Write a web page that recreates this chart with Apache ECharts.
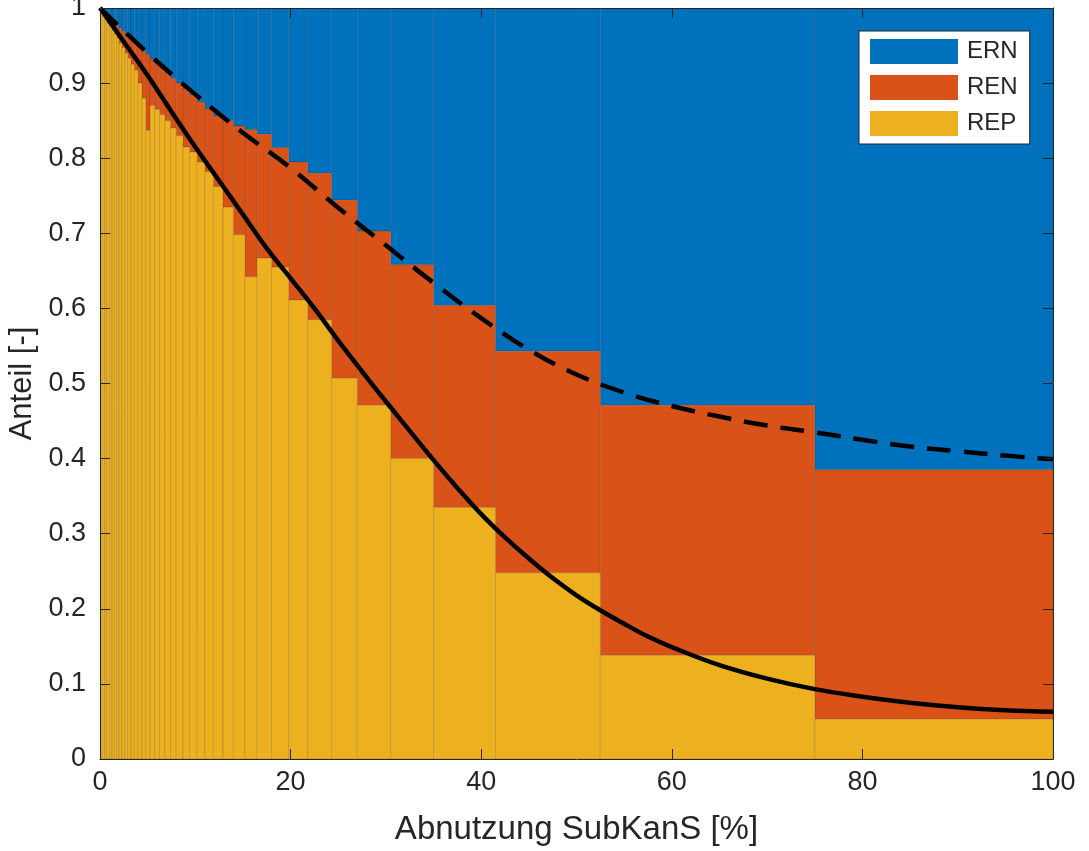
<!DOCTYPE html>
<html>
<head>
<meta charset="utf-8">
<script src="https://cdn.jsdelivr.net/npm/echarts@6/dist/echarts.min.js"></script>
<style>
  html, body { margin: 0; padding: 0; background: #fff; }
  #chart { width: 1089px; height: 851px; }
</style>
</head>
<body>
<div id="chart"></div>
<script>
  // Klassengrenzen der Abnutzung (linke Kante jeder Säule, letzte = rechte Kante)
  const edges = [0, 0.25, 0.5, 0.75, 1.0, 1.25, 1.5, 1.75, 2.0, 2.3, 2.6, 2.9, 3.25, 3.6, 4.0, 4.4, 4.8, 5.25,
    5.75, 6.25, 6.8, 7.4, 8.0, 8.7, 9.4, 10.2, 11.0, 11.9, 12.9, 14.0, 15.2, 16.5, 18.0, 19.8, 21.8, 24.3,
    27.0, 30.5, 35.0, 41.5, 52.5, 75.0, 100];
  // Obergrenze REP (gelb)
  const repTop = [0.995, 0.99, 0.985, 0.98, 0.975, 0.97, 0.965, 0.96, 0.953, 0.947, 0.94, 0.933, 0.925, 0.917,
    0.90, 0.88, 0.837, 0.87, 0.865, 0.858, 0.85, 0.84, 0.83, 0.815, 0.808, 0.795, 0.782, 0.762, 0.735,
    0.698, 0.642, 0.667, 0.655, 0.611, 0.585, 0.507, 0.471, 0.40, 0.335, 0.248, 0.138, 0.053];
  // Obergrenze REN (orange), darüber ERN bis 1
  const renTop = [0.998, 0.996, 0.993, 0.99, 0.987, 0.984, 0.98, 0.977, 0.973, 0.969, 0.966, 0.962, 0.957, 0.953,
    0.948, 0.943, 0.938, 0.932, 0.926, 0.92, 0.913, 0.906, 0.9, 0.892, 0.884, 0.875, 0.866, 0.856, 0.85,
    0.843, 0.838, 0.832, 0.814, 0.795, 0.78, 0.744, 0.703, 0.658, 0.604, 0.543, 0.471, 0.385];

  // Kurven
  const solidX = [0, 2.5, 5, 7.5, 10, 12.5, 15, 17.5, 20, 22.5, 25, 27.5, 30, 32.5, 35, 37.5, 40, 42.5, 45,
    47.5, 50, 52.5, 55, 57.5, 60, 65, 70, 75, 80, 85, 90, 95, 100];
  const solidY = [1, 0.955, 0.91, 0.862, 0.815, 0.77, 0.725, 0.68, 0.64, 0.60, 0.557, 0.516, 0.476, 0.437,
    0.398, 0.361, 0.326, 0.295, 0.267, 0.241, 0.218, 0.198, 0.18, 0.163, 0.149, 0.125, 0.107, 0.093, 0.083,
    0.075, 0.069, 0.065, 0.063];
  const dashX = [0, 5, 10, 15, 20, 25, 30, 35, 40, 45, 50, 55, 60, 65, 70, 75, 80, 85, 90, 95, 100];
  const dashY = [1, 0.94, 0.885, 0.834, 0.787, 0.734, 0.684, 0.634, 0.587, 0.545, 0.512, 0.488, 0.47,
    0.456, 0.444, 0.435, 0.425, 0.416, 0.41, 0.404, 0.399];

  const colors = { ERN: "#0072BD", REN: "#D95319", REP: "#EDB120" };
  const axisColor = "#262626";
  const font = "'Liberation Sans', Arial, Helvetica, sans-serif";

  const chart = echarts.init(document.getElementById("chart"));

  function layer(lo, hi) {
    return repTop.map((_, i) => [edges[i], edges[i + 1], lo(i), hi(i)]);
  }

  function renderRect(params, api) {
    const p0 = api.coord([api.value(0), api.value(3)]);
    const p1 = api.coord([api.value(1), api.value(2)]);
    return {
      type: "rect",
      shape: { x: p0[0], y: p0[1], width: p1[0] - p0[0], height: p1[1] - p0[1] },
      style: { fill: api.visual("color"), stroke: "rgba(0,0,0,0.14)", lineWidth: 1 },
    };
  }

  const layers = [
    { name: "ERN", data: layer(i => renTop[i], () => 1) },
    { name: "REN", data: layer(i => repTop[i], i => renTop[i]) },
    { name: "REP", data: layer(() => 0, i => repTop[i]) },
  ];

  const tick = { show: true, inside: true, length: 10, lineStyle: { color: axisColor, width: 1 } };
  const line = { show: true, onZero: false, lineStyle: { color: axisColor, width: 1 } };
  const boxAxis = { min: 0, z: 10, axisLine: line, axisTick: tick, axisLabel: { show: false }, splitLine: { show: false } };

  chart.setOption({
    animation: false,
    backgroundColor: "#fff",
    textStyle: { fontFamily: font },
    grid: { left: 100, right: 36, top: 8, bottom: 92, outerBoundsMode: "none", containLabel: false },
    legend: {
      data: ["ERN", "REN", "REP"],
      orient: "vertical",
      left: 859, top: 31,
      itemWidth: 88, itemHeight: 25, itemGap: 11,
      padding: [8, 12, 8, 11],
      backgroundColor: "#fff",
      borderColor: axisColor, borderWidth: 1, borderRadius: 0,
      textStyle: { fontSize: 24, color: axisColor, fontFamily: font, padding: [0, 0, 0, 4] },
      icon: "rect",
    },
    xAxis: [
      {
        type: "value", min: 0, max: 100, interval: 20, z: 10,
        name: "Abnutzung SubKanS [%]", nameLocation: "middle", nameGap: 54,
        nameTextStyle: { fontSize: 33, color: axisColor, fontFamily: font },
        axisLine: line, axisTick: tick,
        axisLabel: { fontSize: 27, color: axisColor, margin: 10, fontFamily: font },
        splitLine: { show: false },
      },
      Object.assign({ type: "value", max: 100, interval: 20, position: "top" }, boxAxis),
    ],
    yAxis: [
      {
        type: "value", min: 0, max: 1, interval: 0.1, z: 10,
        name: "Anteil [-]", nameLocation: "middle", nameGap: 62,
        nameTextStyle: { fontSize: 31, color: axisColor, fontFamily: font },
        axisLine: line, axisTick: tick,
        axisLabel: { fontSize: 27, color: axisColor, margin: 14, fontFamily: font,
          formatter: v => String(+v.toFixed(1)) },
        splitLine: { show: false },
      },
      Object.assign({ type: "value", max: 1, interval: 0.1, position: "right" }, boxAxis),
    ],
    series: [
      ...layers.map(l => ({
        name: l.name, type: "custom", renderItem: renderRect, clip: true,
        encode: { x: [0, 1], y: [2, 3] },
        itemStyle: { color: colors[l.name] },
        data: l.data, z: 1,
      })),
      {
        name: "Kurve", type: "line", showSymbol: false, smooth: 0.4, z: 5,
        data: solidX.map((x, i) => [x, solidY[i]]),
        lineStyle: { color: "#000", width: 4.5 },
      },
      {
        name: "Kurve gestrichelt", type: "line", showSymbol: false, smooth: 0.4, z: 5,
        data: dashX.map((x, i) => [x, dashY[i]]),
        lineStyle: { color: "#000", width: 4.5, type: [24, 13] },
      },
    ],
  });

  window.addEventListener("resize", () => chart.resize());
</script>
</body>
</html>
